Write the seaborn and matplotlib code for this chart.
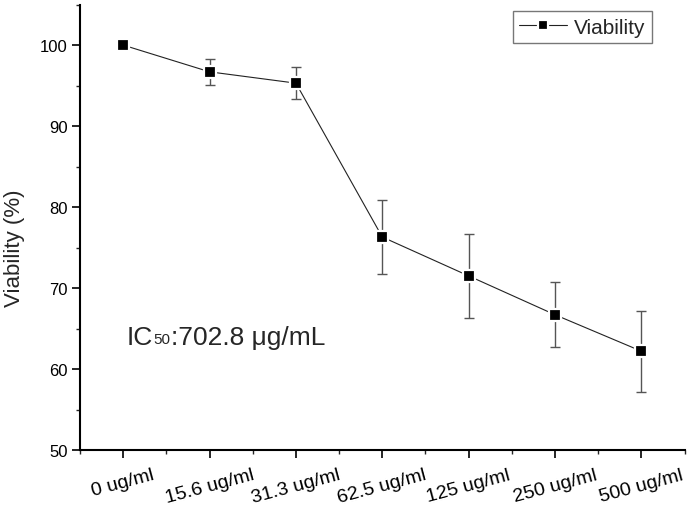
import matplotlib
matplotlib.use("Agg")
import matplotlib.pyplot as plt
import seaborn as sns
import numpy as np
import pandas as pd
from matplotlib.ticker import MultipleLocator

categories = ["0 ug/ml", "15.6 ug/ml", "31.3 ug/ml", "62.5 ug/ml", "125 ug/ml", "250 ug/ml", "500 ug/ml"]
viability = [100.0, 96.7, 95.3, 76.3, 71.5, 66.7, 62.2]
errors = [0.0, 1.6, 1.95, 4.6, 5.2, 4.0, 5.0]
ic50_parts = ["IC", "50", ":702.8 μg/mL"]

sns.set_style("ticks")
plt.rcParams['font.family'] = ['Liberation Sans', 'DejaVu Sans']

df = pd.DataFrame({"conc": categories, "viability": viability, "err": errors})

fig = plt.figure(figsize=(6.88, 5.10), dpi=100)
ax = fig.add_axes([0.1163, 0.1157, 0.8787, 0.8733])

xpos = np.arange(len(categories))
ax.errorbar(xpos, df["viability"], yerr=df["err"], fmt='none', ecolor='#555555',
            elinewidth=1.0, capsize=3.3, capthick=1.0, zorder=2)
sns.lineplot(data=df, x="conc", y="viability", ax=ax, color='#222222', linewidth=0.8,
             marker='s', markersize=8.3, markerfacecolor='black', markeredgecolor='white',
             markeredgewidth=1.6, label='Viability', zorder=3, sort=False)

ax.set_xlim(-0.5, 6.5)
ax.set_ylim(50, 105)
ax.set_xticks(xpos)
ax.set_xticklabels(categories, rotation=15, ha='center', fontsize=14)
ax.xaxis.set_minor_locator(MultipleLocator(0.5))
ax.set_yticks([50, 60, 70, 80, 90, 100])
ax.yaxis.set_minor_locator(MultipleLocator(5))
ax.tick_params(axis='both', which='major', direction='out', length=5.8, width=1.2, colors='black')
ax.tick_params(axis='both', which='minor', direction='out', length=3.0, width=1.0)
ax.tick_params(axis='y', which='major', labelsize=12, pad=3)
ax.tick_params(axis='x', which='major', labelsize=14, pad=6)

ax.set_xlabel("")
ax.set_ylabel("Viability (%)", fontsize=16)
ax.yaxis.set_label_coords(-0.091, 0.455)
sns.despine(ax=ax)
for s in ["left", "bottom"]:
    ax.spines[s].set_linewidth(1.5)
    ax.spines[s].set_color('black')

# IC50 annotation with small baseline-aligned "50"
t1 = ax.text(0.044, 63.1, ic50_parts[0], fontsize=19, ha='left', va='baseline')
t2 = ax.annotate(ic50_parts[1], xy=(1, 0), xycoords=t1, xytext=(0.2, 2), textcoords='offset points',
                 fontsize=11, ha='left', va='bottom')
t3 = ax.annotate(ic50_parts[2], xy=(1, 0), xycoords=t2, xytext=(0.2, -2), textcoords='offset points',
                 fontsize=19, ha='left', va='bottom')

leg = ax.legend(loc='upper right', bbox_to_anchor=(0.946, 0.985), borderaxespad=0, frameon=True, fancybox=False,
                edgecolor='#555555', fontsize=15, handlelength=2.3, handletextpad=0.35,
                borderpad=0.3, numpoints=1, markerscale=0.9)
leg.get_frame().set_linewidth(1.0)

fig.savefig("out.png", dpi=100)
